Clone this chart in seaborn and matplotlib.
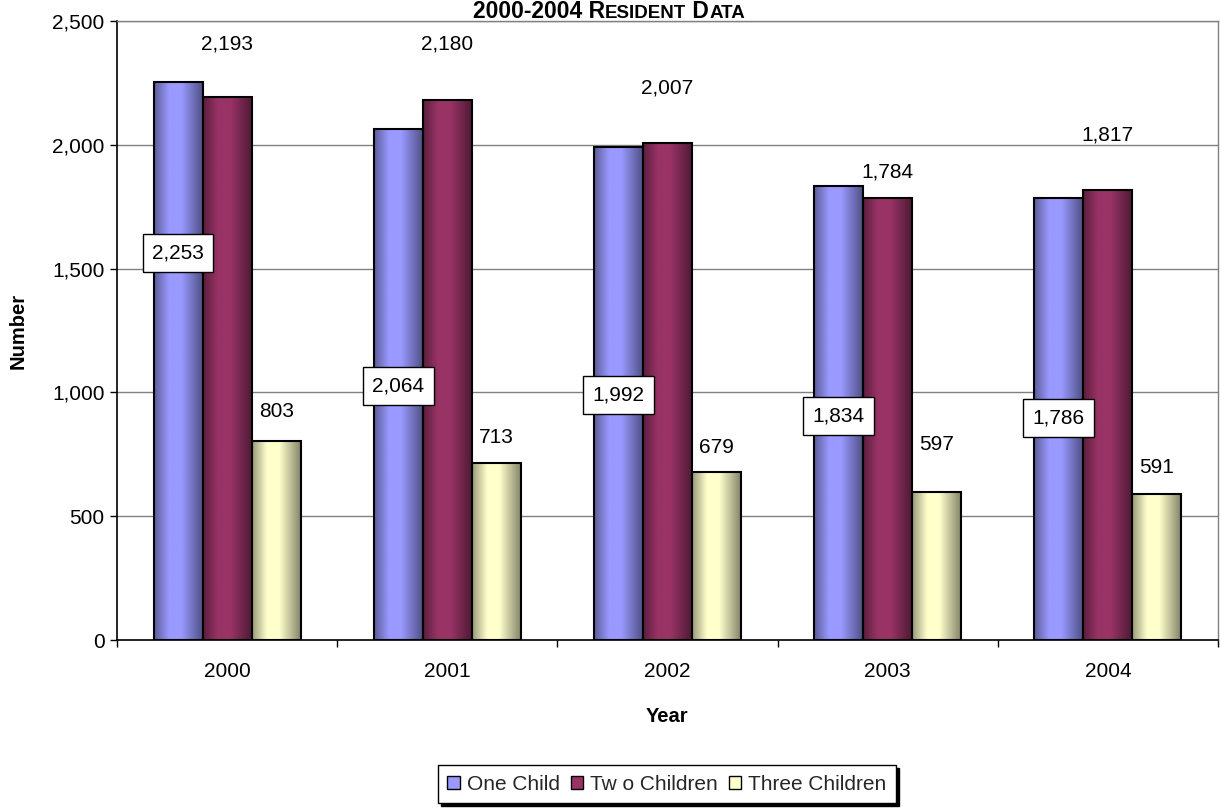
import numpy as np
import pandas as pd
import matplotlib
matplotlib.use("Agg")
import matplotlib.pyplot as plt
import seaborn as sns
from matplotlib.patches import Patch
from matplotlib.colors import to_rgb
from matplotlib.offsetbox import TextArea, HPacker, AnchoredOffsetbox

# ---------------- data ----------------
years = ["2000", "2001", "2002", "2003", "2004"]
one_child = [2253, 2064, 1992, 1834, 1786]
two_children = [2193, 2180, 2007, 1784, 1817]
three_children = [803, 713, 679, 597, 591]
series_names = ["One Child", "Tw o Children", "Three Children"]
y_ticks = [0, 500, 1000, 1500, 2000, 2500]

# label placement (heights of label centres, in data units, as placed in the original)
one_label_y = [1563, 1026, 991, 905, 897]
two_label_y = [2407, 2407, 2229, 1890, 2040]
three_label_y = [921, 816, 779, 788, 695]

colors = ["#9999FF", "#993366", "#FFFFCC"]

sns.set_theme(style="white")
plt.rcParams["font.family"] = ["Liberation Sans", "DejaVu Sans"]

df = pd.DataFrame({
    "Year": years * 3,
    "Number": one_child + two_children + three_children,
    "Series": [s for s in series_names for _ in years],
})

W, H = 1222, 808
fig = plt.figure(figsize=(W / 100, H / 100), dpi=100)
ax = fig.add_axes([117 / W, 1 - 640 / H, 1101 / W, 619 / H])

sns.barplot(data=df, x="Year", y="Number", hue="Series", hue_order=series_names,
            palette=colors, width=0.668, gap=0, edgecolor="black", linewidth=1.5,
            saturation=1, legend=False, ax=ax, errorbar=None)

# cylinder-like horizontal shading
t = np.linspace(0, 1, 96)
f = np.interp(t, [0, 0.3, 0.55, 1.0], [0.6, 1.0, 1.0, 0.5])
for ci, cont in enumerate(ax.containers):
    base = np.array(to_rgb(colors[ci]))
    img = np.clip(base[None, None, :] * f[None, :, None], 0, 1)
    for bar in cont:
        x0, w, h = bar.get_x(), bar.get_width(), bar.get_height()
        z = bar.get_zorder()
        ax.imshow(img, extent=[x0, x0 + w, 0, h], aspect="auto", zorder=z + 0.05,
                  clip_path=bar, interpolation="bilinear")
        bar.set_facecolor("none")
        bar.set_zorder(z + 0.1)

ax.set_xlim(-0.5, len(years) - 0.5)
ax.set_ylim(0, 2500)
ax.set_yticks(y_ticks)
ax.set_yticklabels([f"{v:,}" for v in y_ticks])

FS = 15
# data labels
label_sets = [(one_child, one_label_y, True), (two_children, two_label_y, False),
              (three_children, three_label_y, False)]
for ci, (vals, ly, boxed) in enumerate(label_sets):
    for i, bar in enumerate(ax.containers[ci]):
        cx = bar.get_x() + bar.get_width() / 2
        kw = {}
        if boxed:
            kw["bbox"] = dict(boxstyle="square,pad=0.45", fc="white", ec="black", lw=1)
        ax.text(cx, ly[i], f"{vals[i]:,}", ha="center", va="center", fontsize=FS,
                color="black", zorder=5, **kw)

# grid / spines / ticks
ax.yaxis.grid(True, color="#808080", lw=1)
ax.xaxis.grid(False)
ax.set_axisbelow(True)
for s in ["top", "right"]:
    ax.spines[s].set_color("#808080")
    ax.spines[s].set_linewidth(1)
for s in ["left", "bottom"]:
    ax.spines[s].set_color("black")
    ax.spines[s].set_linewidth(1.2)

ax.tick_params(axis="y", which="major", left=True, length=5, width=1, color="black",
               direction="out", pad=4, labelsize=FS, labelcolor="black")
ax.set_xticks(np.arange(-0.5, len(years), 1.0), minor=True)
ax.tick_params(axis="x", which="minor", bottom=True, length=5, width=1, color="black",
               direction="out")
ax.tick_params(axis="x", which="major", bottom=False, length=0, pad=16, labelsize=FS,
               labelcolor="black")

ax.set_xlabel("Year", fontsize=14.5, fontweight="bold", color="black")
ax.set_ylabel("Number", fontsize=14.5, fontweight="bold", color="black")
ax.xaxis.label.set_va("center")
ax.xaxis.set_label_coords(0.5, -(716 - 640) / 619)
ax.yaxis.label.set(va="center", ha="center")
ax.yaxis.set_label_coords(-(117 - 18) / 1101, 0.5)

# title with small caps, kept fully inside the figure
parts = [("2000-2004 R", 16.5), ("ESIDENT", 13.5), (" D", 16.5), ("ATA", 13.5)]
boxes = [TextArea(txt, textprops=dict(fontsize=s, fontweight="bold", color="black"))
         for txt, s in parts]
pack = HPacker(children=boxes, align="baseline", pad=0, sep=0)
title_box = AnchoredOffsetbox(loc="upper center", child=pack, pad=0, borderpad=0,
                              bbox_to_anchor=(609 / W, 1.0),
                              bbox_transform=fig.transFigure, frameon=False)
fig.add_artist(title_box)

# legend
handles = [Patch(facecolor=c, edgecolor="black", lw=1) for c in colors]
leg = fig.legend(handles, series_names, loc="center", ncol=3,
                 bbox_to_anchor=(667 / W, 1 - 784 / H), fontsize=FS,
                 handlelength=0.6, handleheight=0.6, handletextpad=0.35,
                 columnspacing=0.5, borderpad=0.45, fancybox=False,
                 framealpha=1, edgecolor="black",
                 shadow={"color": "black", "alpha": 1})
leg.get_frame().set_linewidth(1)

fig.savefig("out.png", dpi=100)
